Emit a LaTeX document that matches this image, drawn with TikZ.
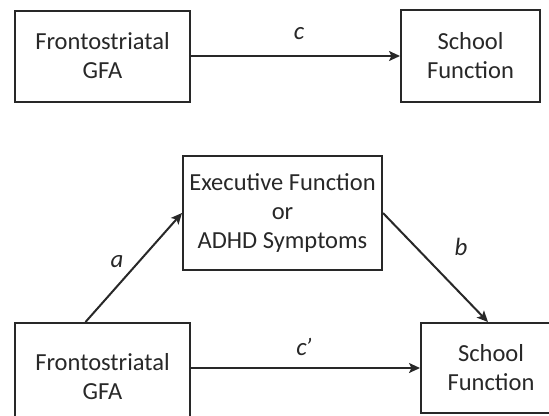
\documentclass[tikz,border=0pt]{standalone}
\usepackage{fontspec}
\setmainfont{Carlito}
\usepackage{xcolor}
\usetikzlibrary{arrows.meta}

\begin{document}
\begin{tikzpicture}[x=1bp, y=-1bp]
    % 定义颜色
    \definecolor{boxline}{RGB}{40, 40, 40}
    \definecolor{boxtext}{RGB}{40, 40, 40}
    % --- 设置全局样式 ---
    % 方框样式
    \tikzset{BoxStyle/.style = {
        shape=rectangle,        % 形状：矩形
        draw=boxline,           % 边框颜色
        fill=white,             % 填充颜色
        line width=2bp,         % 边框粗细
        inner sep=0pt,          % 内部文字边距
        align=center,           % 文字居中
        text=boxtext,           % 文字颜色
        font=\fontsize{24.6}{29}\selectfont
    }}
    % 连线样式
    \tikzset{PathStyle/.style = {
        -{Stealth[length=11bp, width=10bp, inset=2.5bp]}, % 箭头
        line width=2bp,         % 线条粗细
        color=boxline           % 线条颜色
    }}
    % 路径系数样式
    \tikzset{CoefStyle/.style = {
        text=boxtext,
        font=\fontsize{25}{29}\selectfont\itshape
    }}

    % 画布大小
    \useasboundingbox (0,0) rectangle (549,415);

    % --- 定义节点 ---
    % 上图：总效应
    \node[BoxStyle, minimum width=175bp, minimum height=91bp] (GFA1) at (102.5,56) {Frontostriatal\\GFA};
    \node[BoxStyle, minimum width=139bp, minimum height=92bp] (SF1) at (470.5,56) {School\\Function};

    % 下图：中介模型
    \node[BoxStyle, minimum width=199bp, minimum height=114bp] (EF) at (282.5,213) {Executive Function\\or\\ADHD Symptoms};
    \node[BoxStyle, minimum width=175bp, minimum height=108bp] (GFA2) at (102.5,377) {Frontostriatal\\GFA};
    \node[BoxStyle, minimum width=140bp, minimum height=90bp] (SF2) at (491,368) {School\\Function};

    % --- 定义连线 ---
    \draw[PathStyle] (GFA1) -- (SF1); % c
    \draw[PathStyle] ([xshift=-17bp]GFA2.north) -- (EF.west); % a
    \draw[PathStyle] (EF.east) -- ([xshift=-3bp]SF2.north); % b
    \draw[PathStyle] (GFA2.east |- SF2.west) -- (SF2.west); % c'

    % --- 路径系数 ---
    \node[CoefStyle] (c) at (299,34) {c};
    \node[CoefStyle] (a) at (117,262) {a};
    \node[CoefStyle] (b) at (461,247) {b};
    \node[CoefStyle] (cp) at (304,347) {c\kern-1.5bp’};
\end{tikzpicture}
\end{document}
